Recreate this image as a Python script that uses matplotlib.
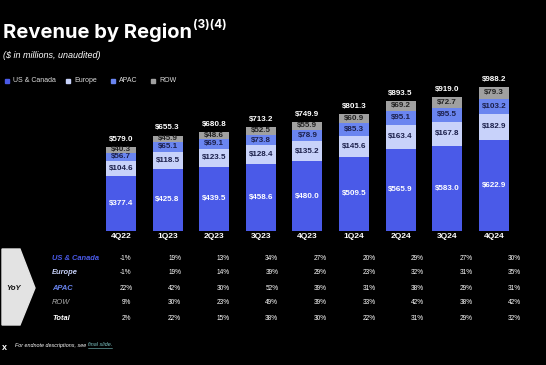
import matplotlib.pyplot as plt
import numpy as np
from matplotlib.patches import Polygon, Rectangle
from matplotlib.lines import Line2D

W, H = 546, 365

quarters = ["4Q22", "1Q23", "2Q23", "3Q23", "4Q23", "1Q24", "2Q24", "3Q24", "4Q24"]
us_canada = [377.4, 425.8, 439.5, 458.6, 480.0, 509.5, 565.9, 583.0, 622.9]
europe = [104.6, 118.5, 123.5, 128.4, 135.2, 145.6, 163.4, 167.8, 182.9]
apac = [56.7, 65.1, 69.1, 73.8, 78.9, 85.3, 95.1, 95.5, 103.2]
row = [40.3, 45.9, 48.6, 52.5, 55.9, 60.9, 69.2, 72.7, 79.3]
totals = [579.0, 655.3, 680.8, 713.2, 749.9, 801.3, 893.5, 919.0, 988.2]

yoy_labels = ["US & Canada", "Europe", "APAC", "ROW", "Total"]
yoy_us = [-1, 19, 13, 34, 27, 20, 29, 27, 30]
yoy_europe = [-1, 19, 14, 39, 29, 23, 32, 31, 35]
yoy_apac = [22, 42, 30, 52, 39, 31, 38, 29, 31]
yoy_row = [9, 30, 23, 49, 39, 33, 42, 38, 42]
yoy_total = [2, 22, 15, 38, 30, 22, 31, 29, 32]

c_us = "#4a5ae8"
c_eu = "#c8d2fa"
c_apac = "#6a85f0"
c_row = "#a0a0a0"
navy = "#1b1f4a"

plt.rcParams['font.family'] = ['Liberation Sans', 'DejaVu Sans']

fig = plt.figure(figsize=(W / 100, H / 100), dpi=100, facecolor="black")


def px(x, y):
    return x / W, 1 - y / H


# bar axes: 4Q22 centre at x=121px, step 46.6px, zero line at y=231px
step = 46.6
left = 121 - step / 2
right = 121 + 8.5 * step
scale = 0.1457  # px per $m
top_px = 60
ax = fig.add_axes([left / W, (H - 231) / H, (right - left) / W, (231 - top_px) / H])
ax.set_facecolor("black")
ax.set_xlim(-0.5, 8.5)
ax.set_ylim(0, (231 - top_px) / scale)
for s in ax.spines.values():
    s.set_visible(False)
ax.set_yticks([])
ax.set_xticks([])

x = np.arange(len(quarters))
bw = 0.645
us_arr = np.array(us_canada)
eu_arr = np.array(europe)
ap_arr = np.array(apac)
rw_arr = np.array(row)

ax.bar(x, us_arr, bw, color=c_us)
ax.bar(x, eu_arr, bw, bottom=us_arr, color=c_eu)
ax.bar(x, ap_arr, bw, bottom=us_arr + eu_arr, color=c_apac)
ax.bar(x, rw_arr, bw, bottom=us_arr + eu_arr + ap_arr, color=c_row)

fs = 5.8
for i in range(len(quarters)):
    b = 0
    for vals, col in [(us_arr, "white"), (eu_arr, navy), (ap_arr, navy), (rw_arr, "#222222")]:
        ax.text(x[i], b + vals[i] / 2, f"${vals[i]:.1f}", ha="center", va="center",
                color=col, fontsize=fs, fontweight="bold")
        b += vals[i]
    ax.text(x[i], totals[i] + 28, f"${totals[i]:.1f}", ha="center", va="bottom",
            color="white", fontsize=fs, fontweight="bold")
    ax.text(x[i], -38, quarters[i], ha="center", va="center", color="white",
            fontsize=6, fontweight="bold")

# title and subtitle
fig.text(*px(3, 33), "Revenue by Region", ha="left", va="center", color="white",
         fontsize=14.5, fontweight="bold", family=["Inter", "DejaVu Sans"])
fig.canvas.draw()
tb = fig.texts[-1].get_window_extent()
fig.text(tb.x1 / W + 1 / W, 1 - 25 / H, "(3)(4)", ha="left", va="center", color="white",
         fontsize=8.5, fontweight="bold", family=["Inter", "DejaVu Sans"])
fig.text(*px(3, 56), "($ in millions, unaudited)", ha="left", va="center",
         color="white", fontsize=6.5, style="italic")

# legend
leg = [("US & Canada", c_us, 5), ("Europe", c_eu, 66), ("APAC", c_apac, 111), ("ROW", c_row, 151)]
for name, col, lx in leg:
    fig.patches.append(Rectangle(px(lx, 83), 4 / W, 4 / H, color=col,
                                 transform=fig.transFigure, figure=fig))
    fig.text(*px(lx + 8, 81), name, ha="left", va="center", color="#dddddd", fontsize=5)

# YoY table
fig.patches.append(Polygon([px(2, 249), px(20, 249), px(35, 288), px(20, 325), px(2, 325)],
                           closed=True, color="#e3e3e3", transform=fig.transFigure, figure=fig))
fig.text(*px(14, 288), "YoY", ha="center", va="center", color="#111111", fontsize=5.5,
         fontweight="bold", style="italic")

row_y = [258, 273, 288, 303, 318]
label_cols = [c_us, c_eu, c_apac, "#aaaaaa", "white"]
label_wt = ["bold", "bold", "bold", "normal", "bold"]
yoy_data = [yoy_us, yoy_europe, yoy_apac, yoy_row, yoy_total]
col_x = 126
col_step = 48.6
for r in range(len(yoy_labels)):
    fig.text(*px(52, row_y[r]), yoy_labels[r], ha="left", va="center", color=label_cols[r],
             fontsize=5.4, fontweight=label_wt[r], style="italic")
    for c in range(len(quarters)):
        fig.text(*px(col_x + c * col_step, row_y[r]), f"{yoy_data[r][c]}%", ha="center",
                 va="center", color="white", fontsize=4.7)

# footnote
fig.text(*px(4, 347), "x", ha="center", va="center", color="white", fontsize=6.5,
         fontweight="bold")
t1 = fig.text(*px(15, 345), "For endnote descriptions, see ", ha="left", va="center",
              color="white", fontsize=3.9, style="italic")
fig.canvas.draw()
bb = t1.get_window_extent()
x2 = bb.x1 / W
t2 = fig.text(x2, 1 - 345 / H, "final slide.", ha="left", va="center",
              color="#7fc8c8", fontsize=3.9, style="italic")
fig.canvas.draw()
bb2 = t2.get_window_extent()
fig.lines.append(Line2D([bb2.x0 / W, bb2.x1 / W], [bb2.y0 / H, bb2.y0 / H], lw=0.4,
                        color="#7fc8c8", transform=fig.transFigure, figure=fig))

plt.savefig("out.png", dpi=100, facecolor="black")
